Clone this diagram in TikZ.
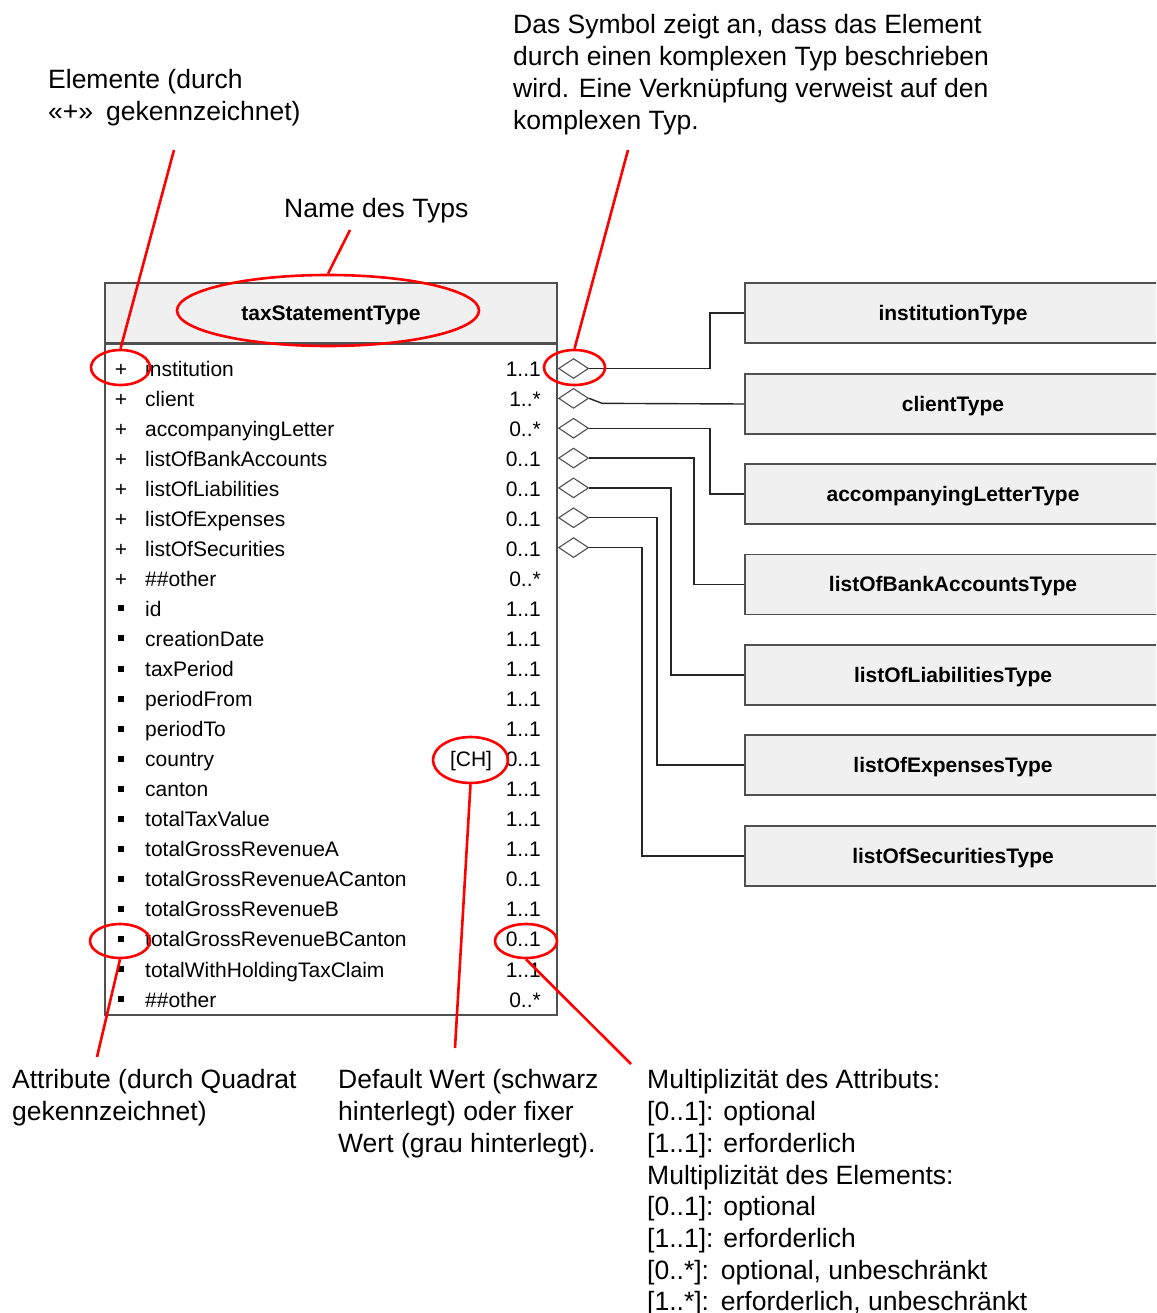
\documentclass[tikz,border=0pt]{standalone}
\usepackage{fontspec}
\setmainfont{Liberation Sans}
\usepackage{tikz}
\usetikzlibrary{shapes.geometric}
\definecolor{boxgray}{HTML}{F0F0F0}
\definecolor{linegray}{HTML}{505050}

\begin{document}
\begin{tikzpicture}[x=1pt, y=-1pt,
        typebox/.style={draw=linegray, fill=boxgray, line width=1.6pt, minimum width=416pt, minimum height=60pt, text height=15pt, text depth=1pt, font=\fontsize{21}{25}\selectfont\bfseries},
        rowtext/.style={inner sep=0pt, font=\fontsize{21}{25}\selectfont},
        note/.style={inner sep=0pt, align=left, anchor=north west, font=\fontsize{26.5}{32}\selectfont},
        aggr/.style={shape=diamond, draw=linegray, fill=white, inner sep=0pt, minimum width=30pt, minimum height=20pt, line width=1.1pt},
        conn/.style={draw=black!85, line width=1.4pt},
        attrmark/.style={fill=black, inner sep=0pt, minimum size=6pt},
        ring/.style={shape=ellipse, draw=red, line width=2.6pt, inner sep=0pt},
        callout/.style={draw=red, line width=2.6pt}]
    \clip (0,0) rectangle (1156,1313);

    \node[draw=linegray, line width=1.6pt, minimum width=452pt, minimum height=671pt, anchor=north] (tstbody) at (331,343) {};
    \node[typebox, minimum width=452pt] (tst) at (331,313) {taxStatementType};

    \foreach \name/\mult [count=\i] in {institution/1..1, client/1..*, accompanyingLetter/0..*,
            listOfBankAccounts/0..1, listOfLiabilities/0..1, listOfExpenses/0..1,
            listOfSecurities/0..1, \#\#other/0..*} {
        \pgfmathsetmacro\yb{376+(\i-1)*30.05}
        \node[rowtext, anchor=base] (k\i) at (121,\yb) {+};
        \node[rowtext, anchor=base west] (n\i) at (145,\yb) {\name};
        \node[rowtext, anchor=base east] (c\i) at (541,\yb) {\mult};
    }
    \foreach \name/\mult [count=\j from 9] in {id/1..1, creationDate/1..1, taxPeriod/1..1,
            periodFrom/1..1, periodTo/1..1, country/0..1, canton/1..1, totalTaxValue/1..1,
            totalGrossRevenueA/1..1, totalGrossRevenueACanton/0..1, totalGrossRevenueB/1..1,
            totalGrossRevenueBCanton/0..1, totalWithHoldingTaxClaim/1..1, \#\#other/0..*} {
        \pgfmathsetmacro\yb{376+(\j-1)*30.05}
        \node[attrmark] (k\j) at (121,\yb-8) {};
        \node[rowtext, anchor=base west] (n\j) at (145,\yb) {\name};
        \node[rowtext, anchor=base east] (c\j) at (541,\yb) {\mult};
    }
    \node[rowtext, anchor=base] (chval) at (471,766.7) {[CH]};

    \foreach \i in {1,...,7}
        \node[aggr, anchor=west] (d\i) at (558,{368.5+(\i-1)*29.85}) {};

    \node[typebox] (t1) at (953,313) {institutionType};
    \node[typebox] (t2) at (953,404) {clientType};
    \node[typebox] (t3) at (953,494) {accompanyingLetterType};
    \node[typebox] (t4) at (953,584.5) {listOfBankAccountsType};
    \node[typebox] (t5) at (953,675) {listOfLiabilitiesType};
    \node[typebox] (t6) at (953,765) {listOfExpensesType};
    \node[typebox] (t7) at (953,856) {listOfSecuritiesType};

    \foreach \i/\dx in {1/121, 3/121, 4/105, 5/82, 6/68, 7/53}
        \draw[conn] (d\i.east) -- ++(\dx,0) |- (t\i.west);
    \draw[conn] (d2.east) -- ++(13,5) -- (t2.west);

    \node[ring, minimum width=302pt, minimum height=71pt] (namering) at (328,310.5) {};
    \node[ring, minimum width=59pt, minimum height=35pt] (plusring) at (120.5,367.5) {};
    \node[ring, minimum width=61pt, minimum height=35pt] (diamring) at (574.5,367.5) {};
    \node[ring, minimum width=75pt, minimum height=46pt] (chring) at (470.5,760) {};
    \node[ring, minimum width=62pt, minimum height=34pt] (multring) at (526,941) {};
    \node[ring, minimum width=60pt, minimum height=34pt] (sqring) at (120,941) {};

    \node[note] (elemnote) at (48,69.5) {Elemente (durch\\«+»\hspace{13pt}gekennzeichnet)};
    \node[note] (symnote) at (513,13.7) {Das Symbol zeigt an, dass das Element\\durch einen komplexen Typ beschrieben\\wird. Eine Verknüpfung verweist auf den\\komplexen Typ.};
    \node[note, anchor=base west] (namenote) at (284,218) {Name des Typs};
    \node[note] (attrnote) at (12,1069.5) {Attribute (durch Quadrat\\gekennzeichnet)};
    \node[note] (defnote) at (338,1069.5) {Default Wert (schwarz\\hinterlegt) oder fixer\\Wert (grau hinterlegt).};
    \node[note, font=\fontsize{26.5}{31.7}\selectfont] (multnote) at (647,1069.5) {Multiplizität des Attributs:\\{[0..1]}: optional\\{[1..1]}: erforderlich\\Multiplizität des Elements:\\{[0..1]}: optional\\{[1..1]}: erforderlich\\{[0..*]}:\hspace{11.8pt}optional, unbeschränkt\\{[1..*]}:\hspace{11.8pt}erforderlich, unbeschränkt};

    \coordinate (elemtip) at (174,150);
    \coordinate (symtip) at (628,150);
    \coordinate (nametip) at (350,230);
    \coordinate (attrtip) at (97,1057);
    \coordinate (deftip) at (455,1048);
    \coordinate (multtip) at (631,1064);
    \draw[callout] (elemtip) -- (plusring.north);
    \draw[callout] (symtip) -- (diamring.north);
    \draw[callout] (nametip) -- (namering.north);
    \draw[callout] (sqring.south) -- (attrtip);
    \draw[callout] (chring.south) -- (deftip);
    \draw[callout] (multring.south) -- (multtip);
\end{tikzpicture}
\end{document}
